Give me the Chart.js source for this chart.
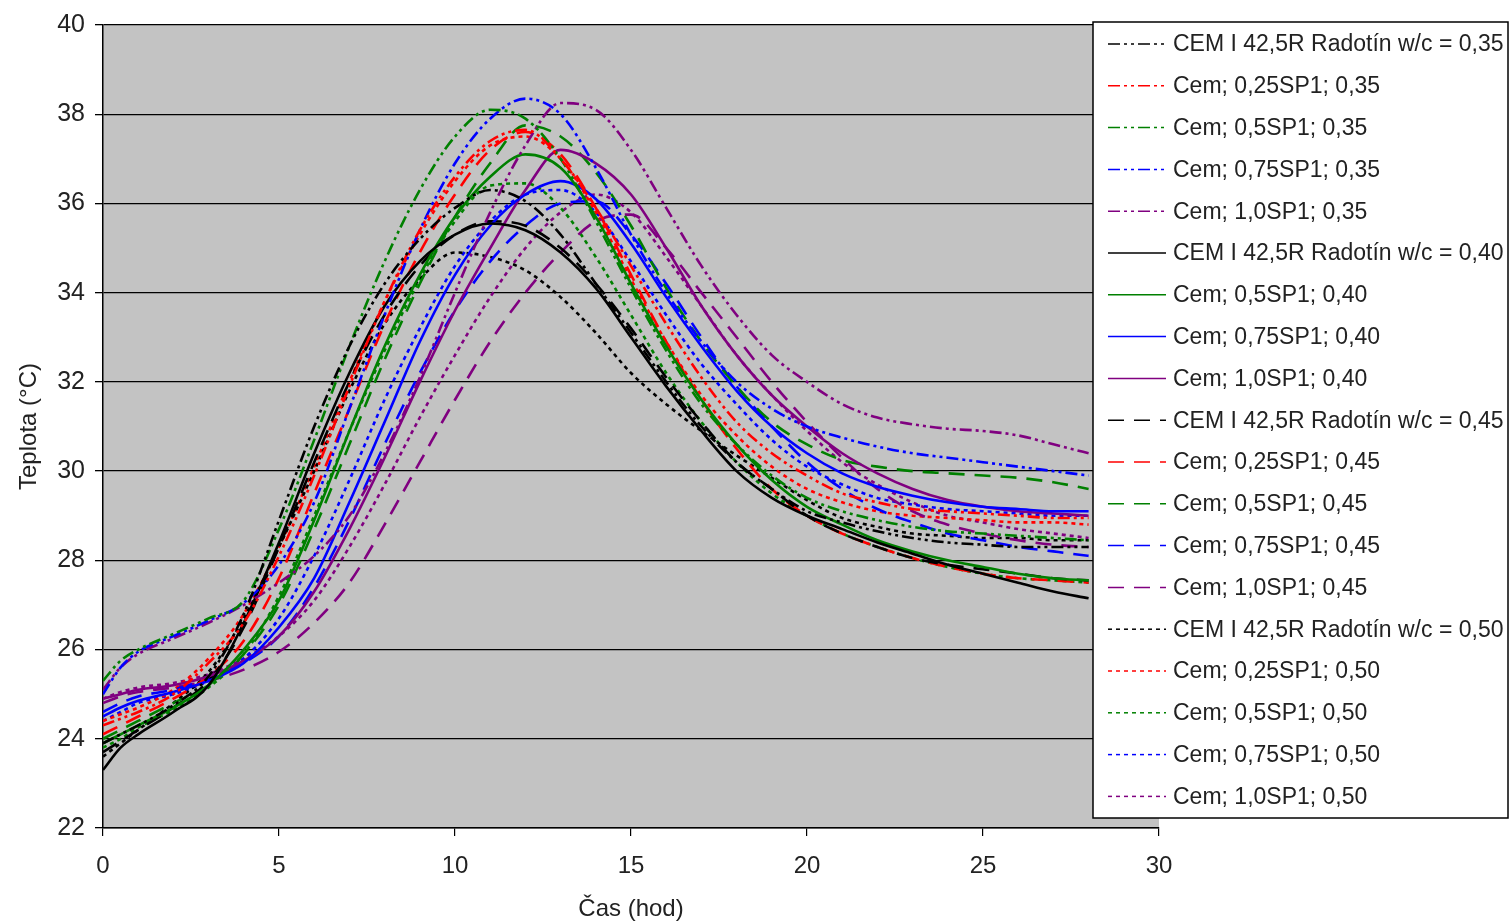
<!DOCTYPE html>
<html>
<head>
<meta charset="utf-8">
<script src="https://cdn.jsdelivr.net/npm/chart.js@4.4.1/dist/chart.umd.min.js"></script>
<style>
  html, body { margin: 0; padding: 0; background: #fff; }
  #wrap { width: 1511px; height: 924px; }
</style>
</head>
<body>
<div id="wrap"><canvas id="myChart" width="1511" height="924"></canvas></div>
<script>
// time axis (hours) shared by all series
const hours = [0, 0.5, 1, 2, 3, 4, 5, 6, 7, 8, 9, 10, 11, 12, 13, 14, 15, 16, 17, 18, 19, 20, 21, 22, 23, 24, 25, 26, 27, 28];

// w/c = 0,35
const cem35  = [23.9, 24.1, 24.3, 24.75, 25.4, 26.8, 28.9, 31.0, 32.8, 34.2, 35.2, 35.9, 36.3, 36.05, 35.3, 34.2, 33.1, 32.0, 31.0, 30.2, 29.6, 29.1, 28.85, 28.65, 28.5, 28.4, 28.35, 28.3, 28.3, 28.3];
const sp025_35 = [24.3, 24.45, 24.6, 25.0, 25.7, 26.6, 28.1, 29.9, 31.9, 33.8, 35.4, 36.6, 37.4, 37.65, 37.0, 35.9, 34.6, 33.3, 32.1, 31.1, 30.4, 29.9, 29.5, 29.3, 29.15, 29.1, 29.05, 29.0, 28.95, 28.95];
const sp05_35  = [25.3, 25.75, 26.0, 26.35, 26.7, 27.1, 28.7, 30.7, 32.8, 34.7, 36.3, 37.5, 38.1, 37.9, 37.0, 35.6, 34.1, 32.7, 31.5, 30.6, 29.9, 29.4, 29.1, 28.9, 28.75, 28.65, 28.6, 28.55, 28.5, 28.45];
const sp075_35 = [25.0, 25.6, 25.95, 26.3, 26.65, 27.05, 27.9, 29.3, 31.4, 33.5, 35.4, 36.9, 37.9, 38.35, 38.0, 36.8, 35.3, 34.0, 32.9, 32.0, 31.4, 31.0, 30.75, 30.55, 30.4, 30.3, 30.2, 30.1, 30.0, 29.9];
const sp10_35  = [25.1, 25.6, 25.9, 26.25, 26.6, 27.0, 27.5, 28.1, 29.0, 30.4, 32.1, 34.0, 35.8, 37.3, 38.25, 38.1, 37.2, 35.9, 34.6, 33.5, 32.6, 32.0, 31.5, 31.2, 31.05, 30.95, 30.9, 30.8, 30.6, 30.4];

// w/c = 0,40
const cem40  = [23.3, 23.8, 24.1, 24.6, 25.2, 26.6, 28.4, 30.4, 32.2, 33.7, 34.7, 35.3, 35.55, 35.4, 34.9, 34.1, 33.0, 31.9, 30.9, 30.0, 29.4, 29.0, 28.7, 28.4, 28.15, 27.9, 27.7, 27.5, 27.3, 27.15];
const sp05_40  = [23.9, 24.1, 24.3, 24.7, 25.2, 26.0, 27.1, 28.9, 30.9, 32.8, 34.4, 35.7, 36.6, 37.1, 36.8, 35.7, 34.2, 32.8, 31.6, 30.6, 29.8, 29.2, 28.8, 28.45, 28.2, 28.0, 27.85, 27.7, 27.6, 27.55];
const sp075_40 = [24.5, 24.7, 24.85, 25.05, 25.3, 25.7, 26.5, 27.6, 29.3, 31.1, 32.9, 34.4, 35.5, 36.2, 36.5, 36.1, 35.1, 33.9, 32.8, 31.8, 31.0, 30.4, 29.95, 29.65, 29.45, 29.3, 29.2, 29.15, 29.1, 29.1];
const sp10_40  = [24.9, 25.0, 25.1, 25.2, 25.4, 25.75, 26.3, 27.3, 28.7, 30.3, 32.0, 33.6, 35.0, 36.3, 37.2, 36.9, 36.2, 35.0, 33.7, 32.6, 31.7, 31.0, 30.4, 29.95, 29.6, 29.35, 29.2, 29.1, 29.05, 29.0];

// w/c = 0,45
const cem45  = [23.7, 23.95, 24.2, 24.7, 25.3, 26.5, 28.3, 30.2, 32.0, 33.5, 34.6, 35.3, 35.6, 35.5, 35.0, 34.2, 33.2, 32.1, 31.1, 30.2, 29.6, 29.0, 28.6, 28.3, 28.05, 27.9, 27.8, 27.7, 27.6, 27.55];
const sp025_45 = [24.1, 24.3, 24.5, 24.9, 25.4, 26.2, 27.6, 29.5, 31.4, 33.3, 34.9, 36.2, 37.2, 37.6, 37.1, 35.9, 34.4, 32.9, 31.6, 30.5, 29.6, 29.0, 28.6, 28.3, 28.05, 27.85, 27.7, 27.6, 27.55, 27.5];
const sp05_45  = [24.0, 24.2, 24.4, 24.8, 25.2, 25.9, 27.0, 28.7, 30.6, 32.5, 34.2, 35.7, 36.9, 37.75, 37.5, 36.7, 35.5, 34.1, 32.9, 31.9, 31.1, 30.6, 30.25, 30.1, 30.0, 29.95, 29.9, 29.85, 29.75, 29.6];
const sp075_45 = [24.6, 24.8, 24.95, 25.1, 25.35, 25.7, 26.3, 27.4, 28.9, 30.6, 32.2, 33.6, 34.7, 35.5, 36.0, 36.05, 35.3, 34.2, 33.0, 31.9, 31.0, 30.2, 29.6, 29.15, 28.85, 28.6, 28.45, 28.3, 28.2, 28.1];
const sp10_45  = [24.8, 24.95, 25.05, 25.15, 25.3, 25.55, 25.95, 26.6, 27.5, 28.8, 30.2, 31.6, 32.9, 34.0, 34.9, 35.6, 35.75, 35.0, 34.0, 33.0, 32.0, 31.1, 30.3, 29.6, 29.1, 28.8, 28.6, 28.45, 28.35, 28.3];

// w/c = 0,50
const cem50  = [23.6, 23.9, 24.2, 24.8, 25.5, 26.7, 28.3, 30.0, 31.8, 33.3, 34.3, 34.9, 34.8, 34.5, 33.9, 33.1, 32.2, 31.5, 30.9, 30.35, 29.85, 29.35, 28.95, 28.75, 28.6, 28.55, 28.5, 28.5, 28.45, 28.45];
const sp025_50 = [24.4, 24.55, 24.7, 25.1, 25.8, 26.8, 28.3, 30.1, 32.0, 33.8, 35.3, 36.5, 37.3, 37.5, 37.0, 35.8, 34.3, 32.9, 31.7, 30.8, 30.1, 29.6, 29.3, 29.1, 29.0, 28.95, 28.9, 28.85, 28.85, 28.8];
const sp05_50  = [23.8, 24.0, 24.25, 24.65, 25.15, 25.9, 27.2, 29.0, 30.9, 32.7, 34.3, 35.6, 36.4, 36.45, 35.9, 34.8, 33.5, 32.2, 31.1, 30.2, 29.5, 29.0, 28.6, 28.3, 28.05, 27.85, 27.7, 27.6, 27.55, 27.5];
const sp075_50 = [24.4, 24.6, 24.8, 25.0, 25.3, 25.8, 26.7, 28.1, 29.8, 31.6, 33.2, 34.6, 35.6, 36.2, 36.3, 35.8, 34.7, 33.5, 32.4, 31.5, 30.7, 30.1, 29.7, 29.4, 29.25, 29.15, 29.1, 29.05, 29.0, 29.0];
const sp10_50  = [24.9, 25.05, 25.15, 25.25, 25.45, 25.8, 26.3, 27.1, 28.3, 29.7, 31.2, 32.6, 33.9, 35.0, 35.8, 36.2, 35.8, 34.8, 33.7, 32.6, 31.7, 30.9, 30.2, 29.7, 29.3, 29.0, 28.85, 28.7, 28.6, 28.5];

const labels = [
  'CEM I 42,5R Radotín w/c = 0,35', 'Cem; 0,25SP1; 0,35', 'Cem; 0,5SP1; 0,35', 'Cem; 0,75SP1; 0,35', 'Cem; 1,0SP1; 0,35',
  'CEM I 42,5R Radotín w/c = 0,40', 'Cem; 0,5SP1; 0,40', 'Cem; 0,75SP1; 0,40', 'Cem; 1,0SP1; 0,40',
  'CEM I 42,5R Radotín w/c = 0,45', 'Cem; 0,25SP1; 0,45', 'Cem; 0,5SP1; 0,45', 'Cem; 0,75SP1; 0,45', 'Cem; 1,0SP1; 0,45',
  'CEM I 42,5R Radotín w/c = 0,50', 'Cem; 0,25SP1; 0,50', 'Cem; 0,5SP1; 0,50', 'Cem; 0,75SP1; 0,50', 'Cem; 1,0SP1; 0,50'
];
const series = [
  cem35, sp025_35, sp05_35, sp075_35, sp10_35,
  cem40, sp05_40, sp075_40, sp10_40,
  cem45, sp025_45, sp05_45, sp075_45, sp10_45,
  cem50, sp025_50, sp05_50, sp075_50, sp10_50
];
const yTicks = [22, 24, 26, 28, 30, 32, 34, 36, 38, 40];
const xTicks = [0, 5, 10, 15, 20, 25, 30];

const BLACK = '#000000', RED = '#ff0000', GREEN = '#008000', BLUE = '#0000ff', PURPLE = '#800080';
const colors = [
  BLACK, RED, GREEN, BLUE, PURPLE,
  BLACK, GREEN, BLUE, PURPLE,
  BLACK, RED, GREEN, BLUE, PURPLE,
  BLACK, RED, GREEN, BLUE, PURPLE
];
const DASHDOT = [12, 4, 3, 4, 3, 4], SOLID = [], DASH = [16, 10], DOT = [4, 4];
const dashes = [
  DASHDOT, DASHDOT, DASHDOT, DASHDOT, DASHDOT,
  SOLID, SOLID, SOLID, SOLID,
  DASH, DASH, DASH, DASH, DASH,
  DOT, DOT, DOT, DOT, DOT
];

const FONT = '"Liberation Sans", Arial, sans-serif';

function makeDatasets() {
  let out = [];
  for (let i = 0; i < series.length; i++) {
    out.push({
      label: labels[i],
      data: hours.map((h, j) => ({ x: h, y: series[i][j] })),
      borderColor: colors[i],
      borderWidth: 2.6,
      borderDash: dashes[i],
      pointRadius: 0,
      fill: false,
      cubicInterpolationMode: 'monotone'
    });
  }
  return out;
}

// gray plot background
const plotBg = {
  id: 'plotBg',
  beforeDraw(chart) {
    const { ctx, chartArea: a } = chart;
    ctx.save();
    ctx.fillStyle = '#c3c3c3';
    ctx.fillRect(a.left, a.top, a.right - a.left, a.bottom - a.top);
    ctx.restore();
  }
};

// legend box drawn over the right part of the plot, like the original
const boxLegend = {
  id: 'boxLegend',
  afterDraw(chart) {
    const ctx = chart.ctx;
    const x0 = 1093, y0 = 22, w = 415, h = 796;
    ctx.save();
    ctx.fillStyle = '#ffffff';
    ctx.fillRect(x0, y0, w, h);
    ctx.strokeStyle = '#000';
    ctx.lineWidth = 1.5;
    ctx.strokeRect(x0, y0, w, h);
    ctx.font = '23px ' + FONT;
    ctx.textBaseline = 'middle';
    chart.data.datasets.forEach((ds, i) => {
      const y = 44 + i * 41.8;
      ctx.strokeStyle = ds.borderColor;
      ctx.lineWidth = 1.5;
      ctx.setLineDash(ds.borderDash);
      ctx.beginPath();
      ctx.moveTo(1108, y);
      ctx.lineTo(1166, y);
      ctx.stroke();
      ctx.setLineDash([]);
      ctx.fillStyle = '#222';
      ctx.fillText(ds.label, 1173, y + 1);
    });
    ctx.restore();
  }
};

const chart = new Chart(document.getElementById('myChart').getContext('2d'), {
  type: 'line',
  data: { datasets: makeDatasets() },
  options: {
    responsive: false,
    devicePixelRatio: 1,
    animation: false,
    layout: { padding: { top: 14, right: 352, left: 0, bottom: 0 } },
    plugins: { legend: { display: false }, tooltip: { enabled: false } },
    scales: {
      x: {
        type: 'linear',
        min: 0, max: 30,
        afterBuildTicks: s => { s.ticks = xTicks.map(v => ({ value: v })); },
        afterFit: s => { s.height = 96; },
        grid: { drawOnChartArea: false, color: '#000', tickLength: 8, lineWidth: 1.2 },
        border: { color: '#000', width: 1.5 },
        ticks: { color: '#222', font: { family: FONT, size: 24 }, padding: 16, maxRotation: 0 },
        title: { display: true, text: 'Čas (hod)', color: '#222', font: { family: FONT, size: 24 }, padding: { top: 2, bottom: 0 } }
      },
      y: {
        min: 22, max: 40,
        afterBuildTicks: s => { s.ticks = yTicks.map(v => ({ value: v })); },
        afterFit: s => { s.width = 103; },
        grid: { color: '#000', tickLength: 8, lineWidth: 1.3 },
        border: { color: '#000', width: 1.5 },
        ticks: { color: '#222', font: { family: FONT, size: 25 }, padding: 10 },
        title: { display: true, text: 'Teplota (°C)', color: '#222', font: { family: FONT, size: 24 }, padding: { top: 15, bottom: 4 } }
      }
    }
  },
  plugins: [plotBg, boxLegend]
});
</script>
</body>
</html>
